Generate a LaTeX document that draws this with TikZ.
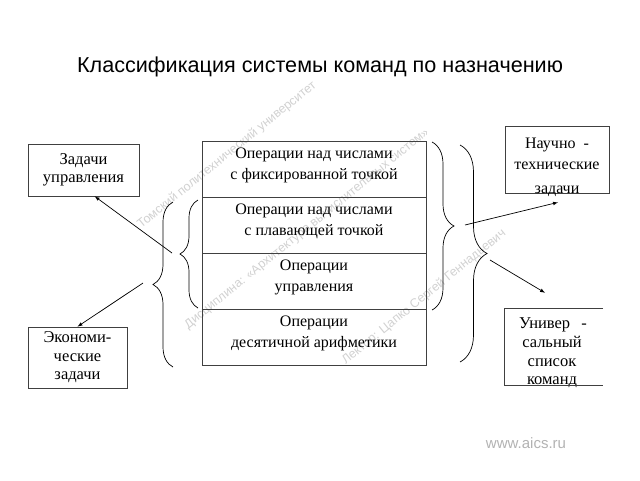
\documentclass[tikz,border=0pt]{standalone}
\usepackage{fontspec}
\setmainfont{Liberation Serif}
\newfontfamily\titlefont{Liberation Sans}
\usetikzlibrary{decorations.pathreplacing,calc}

\begin{document}
\begin{tikzpicture}[x=1pt,y=-1pt,>=latex,
        box/.style={draw=black!75,line width=0.7pt,inner sep=0pt,align=center,font=\fontsize{16.5}{18.5}\selectfont},
        cell/.style={draw=black!75,line width=0.7pt,minimum width=224pt,minimum height=56pt,inner sep=0pt},
        celltext/.style={align=center,font=\fontsize{16}{21}\selectfont},
        brc/.style={decorate,decoration={brace,amplitude=#1},line width=0.7pt},
        arr/.style={->,line width=0.7pt},
        wm/.style={text=black!18,font=\titlefont\fontsize{12.5}{14}\selectfont,rotate=39}]
            \useasboundingbox (0,0) rectangle (640,480);
            % watermark
            \node[wm] (wm1) at (227,155) {Томский политехнический университет};
            \node[wm] (wm2) at (307,229) {Дисциплина: «Архитектура вычислительных систем»};
            \node[wm] (wm3) at (424,297) {Лектор: Цапко Сергей Геннадьевич};
            \node[font=\titlefont\fontsize{15}{18}\selectfont,text=black!30] (web) at (526,443) {www.aics.ru};
            \node[font=\titlefont\fontsize{21.6}{24}\selectfont] (title) at (320,67) {Классификация системы команд по назначению};
            % central table
            \foreach \t [count=\i] in {{Операции над числами\\с фиксированной точкой},
                {Операции над числами\\с плавающей точкой},
                {Операции\\управления},
                {Операции\\десятичной арифметики}}{
                \node[cell] (op\i) at (314,113+56*\i) {};
                \node[celltext] (opt\i) at ([yshift=4pt]op\i.center) {\t};
            }
            % boxes
            \node[box,minimum width=111pt,minimum height=52pt] (zad) at (83.5,170) {Задачи\\управления};
            \node[box,minimum width=99pt,minimum height=61pt] (eco) at (77.5,357.5) {Экономи-\\ческие\\задачи};
            \node[box,minimum width=104pt,minimum height=67pt] (sci) at (557,159.5) {};
            \node[align=center,font=\fontsize{16}{21}\selectfont] (scit) at ([yshift=-8pt]sci.center) {Научно \ -\\технические\\[3pt]задачи};
            \node[minimum width=98pt,minimum height=76pt,inner sep=0pt] (uni) at (554,347) {};
            \node[align=center,font=\fontsize{16.5}{18.7}\selectfont] (unit) at ([xshift=-2pt,yshift=-6pt]uni.center) {\makebox[70pt]{\hspace{2pt}Универ\hfill-}\\сальный\\список\\команд};
            \draw[black!75,line width=0.7pt] (uni.north east)--(uni.north west)--(uni.south west)--(uni.south east);
            % braces
            \draw[brc=18] (198,308)--(198,200);
            \draw[brc=20] (173,367)--(173,202);
            \draw[brc=22] (432,142)--(432,310);
            \draw[brc=27] (460,145)--(460,362);
            \coordinate (tipA) at (172,253);
            \coordinate (tipB) at (143,283);
            \coordinate (tipC) at (465,225);
            \coordinate (tipD) at (490,260);
            \coordinate (sciend) at ($(sci.south)+(1,9)$);
            \coordinate (uniend) at ($(uni.north)+(-9,-16)$);
            \draw[arr] (tipA)--(zad.-67);
            \draw[arr] (tipB)--(eco.north);
            \draw[arr] (tipC)--(sciend);
            \draw[arr] (tipD)--(uniend);
        \end{tikzpicture}
\end{document}
